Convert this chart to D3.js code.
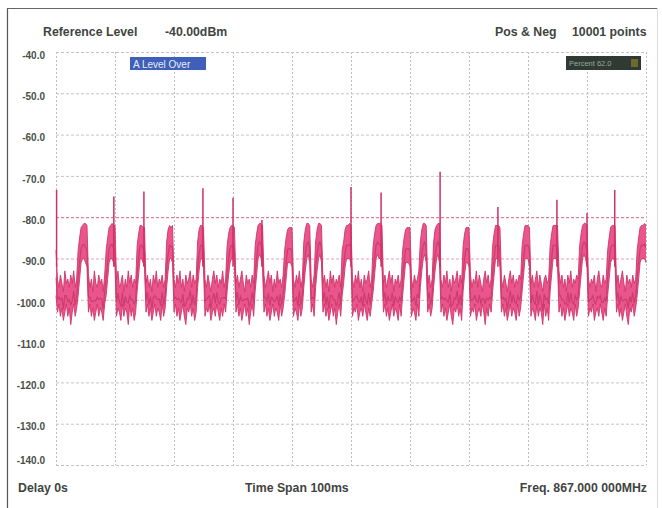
<!DOCTYPE html>
<html><head><meta charset="utf-8">
<script src="https://cdn.jsdelivr.net/npm/d3@7"></script>
<style>
html,body{margin:0;padding:0;background:#fff;}
svg{display:block;}
text{font-family:"Liberation Sans",Arial,sans-serif;font-weight:bold;}
</style></head>
<body>
<svg id="c" width="662" height="508"></svg>
<script>
// ---- data ----
const yTicks = [-40,-50,-60,-70,-80,-90,-100,-110,-120,-130,-140];
const yTickLabels = ["-40.0","-50.0","-60.0","-70.0","-80.0","-90.0","-100.0","-110.0","-120.0","-130.0","-140.0"];
const xDivs = [0,10,20,30,40,50,60,70,80,90,100]; // ms
const sampleStepMs = 0.25;
// positive-peak envelope (dBm), one value per 0.25 ms, 20 values (5 ms) per row
const traceMax = [
-88,-95,-97,-94,-96,-98,-93,-96,-95,-97, -94,-96,-93,-97,-95,-88,-85,-82.5,-82,-81.5,
-81.5,-82,-94,-97,-95,-98,-93,-96,-97,-94, -96,-95,-98,-94,-88,-85,-82.5,-82,-81.5,-82,
-82,-95,-93,-97,-96,-94,-98,-95,-97,-93, -96,-94,-97,-95,-96,-87,-84,-82,-82,-82.5,
-82.5,-96,-94,-97,-95,-98,-94,-96,-93,-97, -95,-96,-94,-97,-95,-86,-83,-82,-82.5,-82,
-95,-97,-94,-96,-93,-97,-95,-98,-94,-96, -95,-93,-97,-94,-96,-95,-86,-83,-82,-82,
-82.5,-95,-97,-94,-96,-98,-95,-93,-96,-94, -97,-95,-96,-93,-97,-95,-87,-84,-82.5,-82,
-82,-82.5,-96,-94,-97,-95,-93,-96,-98,-94, -96,-95,-97,-94,-96,-87,-84,-82,-81.5,-81.5,
-82,-94,-97,-95,-93,-96,-94,-98,-95,-97, -93,-96,-95,-97,-94,-88,-85,-83,-82.5,-82.5,
-82.5,-95,-97,-94,-96,-93,-97,-95,-86,-83, -81.5,-81.5,-82,-95,-97,-94,-86,-83,-81.5,-81.5,
-82,-96,-94,-97,-95,-98,-93,-96,-94,-97, -95,-96,-94,-97,-88,-86,-83,-82,-82,-81.5,
-82,-95,-97,-94,-96,-93,-97,-95,-98,-94, -96,-95,-93,-97,-95,-87,-84,-82,-81.5,-81.5,
-81.5,-82,-96,-94,-97,-95,-93,-96,-94,-98, -95,-96,-94,-97,-95,-88,-85,-83,-82.5,-82.5,
-82.5,-95,-97,-94,-96,-95,-93,-86,-83,-81.5, -81.5,-82,-96,-94,-97,-95,-86,-83,-82,-81.5,
-81.5,-95,-97,-94,-96,-93,-97,-95,-98,-94, -96,-95,-93,-97,-94,-96,-87,-84,-82.5,-82.5,
-82.5,-94,-97,-95,-96,-93,-97,-94,-96,-98, -95,-93,-96,-94,-97,-95,-87,-84,-82,-82,
-82,-82.5,-95,-97,-94,-96,-98,-95,-93,-96, -94,-97,-95,-96,-94,-95,-87,-84,-82,-82,
-82,-82.5,-96,-94,-97,-95,-93,-97,-94,-96, -98,-95,-94,-96,-95,-87,-84,-82,-82,-82,
-82,-93,-96,-94,-97,-95,-98,-94,-96,-93, -97,-95,-96,-94,-95,-87,-84,-82,-81.5,-81.5,
-82,-95,-97,-95,-96,-94,-98,-95,-93,-96, -97,-94,-96,-95,-88,-85,-82.5,-82,-82,-82,
-96,-94,-97,-95,-93,-96,-98,-94,-96,-95, -97,-94,-96,-95,-88,-85,-82.5,-82,-82,-81.5,
-82];
// negative-peak envelope (dBm)
const traceMin = [
-99,-103,-101,-104,-102,-105,-103,-101,-104,-102, -106,-103,-101,-104,-102,-99,-95,-91,-90,-90,
-91,-92,-103,-101,-104,-102,-105,-103,-101,-104, -102,-103,-105,-101,-99,-95,-91,-90,-90,-91,
-92,-104,-102,-103,-105,-101,-104,-102,-103,-106, -101,-104,-102,-105,-103,-98,-94,-90,-90,-91,
-92,-103,-101,-104,-102,-105,-103,-101,-104,-102, -103,-105,-101,-104,-102,-97,-93,-90,-90,-91,
-103,-101,-104,-102,-105,-103,-101,-104,-106,-102, -103,-101,-104,-102,-105,-103,-97,-93,-90,-90,
-92,-104,-102,-103,-101,-105,-103,-102,-104,-101, -103,-105,-102,-104,-101,-103,-98,-94,-91,-90,
-90,-92,-103,-101,-104,-102,-105,-103,-101,-104, -102,-106,-103,-101,-104,-98,-94,-90,-89,-90,
-92,-103,-101,-104,-102,-105,-103,-101,-104,-102, -103,-105,-101,-104,-102,-99,-95,-91,-91,-91,
-92,-104,-102,-103,-105,-101,-104,-102,-97,-93, -90,-89,-91,-103,-101,-104,-97,-93,-90,-89,
-91,-103,-101,-104,-102,-105,-103,-101,-104,-102, -106,-103,-101,-104,-99,-96,-92,-90,-90,-90,
-91,-104,-102,-103,-101,-105,-103,-102,-104,-101, -103,-105,-102,-104,-101,-98,-94,-90,-89,-90,
-90,-92,-103,-101,-104,-102,-105,-103,-101,-104, -102,-103,-105,-101,-104,-99,-95,-91,-91,-91,
-92,-104,-102,-103,-105,-101,-104,-97,-93,-90, -89,-91,-103,-101,-104,-102,-97,-93,-90,-89,
-91,-103,-101,-104,-102,-105,-103,-101,-104,-106, -102,-103,-101,-104,-102,-105,-98,-94,-91,-91,
-92,-104,-102,-103,-101,-105,-103,-102,-104,-101, -103,-106,-102,-104,-101,-103,-98,-94,-90,-90,
-90,-92,-103,-101,-104,-102,-105,-103,-101,-104, -102,-103,-105,-101,-104,-102,-98,-94,-90,-90,
-90,-92,-104,-102,-103,-105,-101,-104,-102,-103, -106,-101,-104,-102,-105,-98,-94,-90,-90,-90,
-91,-103,-101,-104,-102,-105,-103,-101,-104,-102, -103,-105,-101,-104,-102,-98,-94,-90,-89,-90,
-92,-104,-102,-103,-101,-105,-103,-102,-104,-101, -103,-105,-102,-104,-99,-95,-91,-90,-90,-91,
-103,-101,-104,-102,-105,-103,-101,-104,-106,-102, -103,-101,-104,-102,-99,-95,-91,-90,-90,-90,
-91];
// narrow spikes: time (ms) and peak (dBm)
const spikeTimes = [0.1, 9.8, 14.9, 24.9, 30.0, 34.9, 50.0, 55.1, 65.1, 74.9, 84.9, 90.0, 94.7];
const spikePeaks = [-73.4, -75, -73.8, -73, -75.3, -80.7, -72.7, -74, -69, -77.5, -75.8, -79, -73.4];
const refLevel = -80;

const headerLeft = ["Reference Level", "-40.00dBm"];
const headerRight = ["Pos & Neg", "10001 points"];
const footer = ["Delay 0s", "Time Span 100ms", "Freq. 867.000 000MHz"];

// ---- drawing ----
const svg = d3.select("#c");
const x = d3.scaleLinear().domain([0,100]).range([56,646]);
const y = d3.scaleLinear().domain([-140,-40]).range([465,52]);

// frame
svg.append("line").attr("x1",7.5).attr("x2",7.5).attr("y1",8).attr("y2",508).attr("stroke","#555").attr("stroke-width",1.2);
svg.append("line").attr("x1",7).attr("x2",657).attr("y1",8.5).attr("y2",8.5).attr("stroke","#666").attr("stroke-width",1.2);
svg.append("line").attr("x1",657.5).attr("x2",657.5).attr("y1",8).attr("y2",508).attr("stroke","#ddd").attr("stroke-width",1);

// grid
const g = svg.append("g");
g.selectAll("line.v").data(xDivs).join("line")
  .attr("x1",d=>x(d)+0.5).attr("x2",d=>x(d)+0.5).attr("y1",y(-40)).attr("y2",y(-140))
  .attr("stroke","#bdbdbd").attr("stroke-width",1).attr("stroke-dasharray","2,2");
g.selectAll("line.h").data(yTicks).join("line")
  .attr("x1",x(0)).attr("x2",x(100)).attr("y1",d=>y(d)+0.5).attr("y2",d=>y(d)+0.5)
  .attr("stroke",d=> d===refLevel ? "#de5f82" : (d===-90 ? "#eaa0b4" : "#c4c4c4"))
  .attr("stroke-width",1).attr("stroke-dasharray","3,2");

// y axis labels
const yAxis = d3.axisLeft(y).tickValues(yTicks).tickSize(0)
  .tickFormat((d,i)=>yTickLabels[i]);
const ya = svg.append("g").attr("transform","translate(48,3)").call(yAxis);
ya.select(".domain").remove();
ya.selectAll("text").attr("fill","#4a4f4a").style("font-size","10px").style("font-weight","bold")
  .style("font-family","'Liberation Sans',Arial,sans-serif");
ya.selectAll(".tick").filter(d=>d===-140).select("text").attr("dy","-0.5em");

// trace
const samples = traceMax.map((v,i)=>({t:i*sampleStepMs, hi:v, lo:traceMin[i]}));
const area = d3.area().x(d=>x(d.t)).y0(d=>y(d.lo)).y1(d=>y(d.hi));
svg.append("path").datum(samples).attr("d",area).attr("fill","#e8568b");
const lineHi = d3.line().x(d=>x(d.t)).y(d=>y(d.hi));
const lineLo = d3.line().x(d=>x(d.t)).y(d=>y(d.lo));
const lineMid = d3.line().x(d=>x(d.t)).y(d=>y(d.hi*0.4+d.lo*0.6));
svg.append("path").datum(samples).attr("d",lineMid).attr("fill","none").attr("stroke","#b8265a").attr("stroke-width",1.2).attr("opacity",0.55);
svg.append("path").datum(samples).attr("d",lineHi).attr("fill","none").attr("stroke","#d13468").attr("stroke-width",0.9);
svg.append("path").datum(samples).attr("d",lineLo).attr("fill","none").attr("stroke","#d13468").attr("stroke-width",0.9);
svg.selectAll("line.sp").data(spikeTimes).join("line")
  .attr("x1",d=>x(d)).attr("x2",d=>x(d))
  .attr("y1",(d,i)=>y(spikePeaks[i])).attr("y2",y(-92))
  .attr("stroke","#cf2f66").attr("stroke-width",1.5);

// header / footer text
function txt(s,xx,yy,anchor){
  svg.append("text").attr("x",xx).attr("y",yy).attr("text-anchor",anchor||"start")
    .attr("fill","#3f443f").style("font-size","12.3px").text(s);
}
txt(headerLeft[0],43,36);
txt(headerLeft[1],165,36);
txt(headerRight[0],495,36);
txt(headerRight[1],572,36);
txt(footer[0],18,492);
txt(footer[1],245,492);
txt(footer[2],647,492,"end");

// status boxes
svg.append("rect").attr("x",130).attr("y",57).attr("width",76).attr("height",13).attr("fill","#3f5fb8");
svg.append("text").attr("x",133).attr("y",67.5).attr("fill","#e8eefc").style("font-size","10px").style("font-weight","normal").text("A Level Over");
svg.append("rect").attr("x",566).attr("y",56).attr("width",75).attr("height",14).attr("fill","#2f3a34");
svg.append("rect").attr("x",631).attr("y",59).attr("width",7).attr("height",8).attr("fill","#6f6a2a");
svg.append("text").attr("x",569).attr("y",66).attr("fill","#9aa89f").style("font-size","7.5px").style("font-weight","normal").text("Percent  62.0");
if (traceMax.length !== 401 || traceMin.length !== 401) {
  svg.append("text").attr("x",300).attr("y",420).attr("fill","red").text("LEN "+traceMax.length+" "+traceMin.length);
}
</script>
</body></html>
